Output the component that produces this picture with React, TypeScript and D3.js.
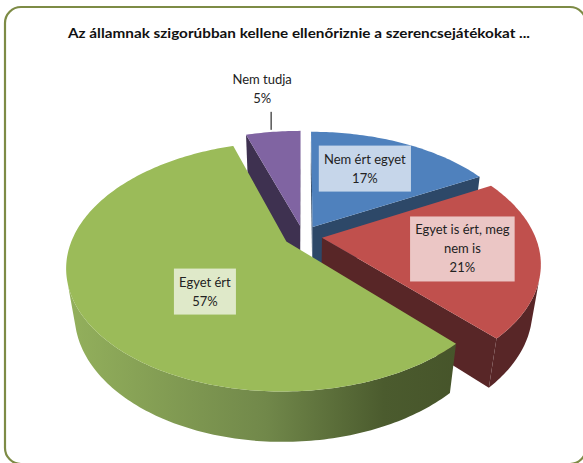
import React, { useEffect, useRef } from "react";
import * as d3 from "d3";

// chart data
const title = "Az államnak szigorúbban kellene ellenőriznie a szerencsejátékokat ...";
const categories = ["Nem ért egyet", "Egyet is ért, meg nem is", "Egyet ért", "Nem tudja"];
const values = [17, 21, 57, 5];
const labelLines = [
  ["Nem ért egyet", "17%"],
  ["Egyet is ért, meg", "nem is", "21%"],
  ["Egyet ért", "57%"],
  ["Nem tudja", "5%"],
];
const topColors = ["#4f81bd", "#c0504d", "#9bbb59", "#8064a2"];
const wallColors = ["#2d4868", "#582627", "#4a5a2e", "#3e3150"];

const W = 583;
const H = 463;

// 3d view
const cx = 303;
const cy = 236;
const S = 213;
const sinT = 0.552;
const cosT = Math.sqrt(1 - sinT * sinT);
const D = 4.17;
const depth = 0.265;
const explode = 0.09;
const font = "Lato, 'Open Sans', sans-serif";

function project(X: number, Y: number, Z: number): [number, number] {
  const yUp = Y * cosT - Z * sinT;
  const zc = Y * sinT + Z * cosT;
  const f = D / (D - zc);
  return [cx + S * X * f, cy - S * yUp * f];
}

function App() {
  const svgRef = useRef<SVGSVGElement>(null);

  useEffect(() => {
    const svg = d3.select(svgRef.current);
    svg.selectAll("*").remove();

    const defs = svg.append("defs");
    const grad = defs
      .append("linearGradient")
      .attr("id", "greenSide")
      .attr("gradientUnits", "userSpaceOnUse")
      .attr("x1", cx - S * 1.1)
      .attr("x2", cx + S * 0.75)
      .attr("y1", 0)
      .attr("y2", 0);
    grad.append("stop").attr("offset", 0).attr("stop-color", "#93b05c");
    grad.append("stop").attr("offset", 0.5).attr("stop-color", "#71884a");
    grad.append("stop").attr("offset", 0.8).attr("stop-color", "#4b5b2e");
    grad.append("stop").attr("offset", 1).attr("stop-color", "#46542a");

    svg
      .append("rect")
      .attr("x", 5)
      .attr("y", 7)
      .attr("width", 581)
      .attr("height", 457)
      .attr("rx", 16)
      .attr("fill", "#fff")
      .attr("stroke", "#7d8b45")
      .attr("stroke-width", 2.2);

    svg
      .append("text")
      .attr("x", 299)
      .attr("y", 38)
      .attr("text-anchor", "middle")
      .attr("font-family", font)
      .attr("font-weight", "bold")
      .attr("font-size", 14)
      .attr("textLength", 462)
      .attr("lengthAdjust", "spacingAndGlyphs")
      .attr("fill", "#111")
      .text(title);

    const arcs = d3.pie<number>().sort(null).value((d) => d)(values);
    const line = d3.line();
    const step = Math.PI / 180;

    const slices = arcs.map((a, i) => {
      const mid = (a.startAngle + a.endAngle) / 2;
      const ox = explode * Math.sin(mid);
      const oz = -explode * Math.cos(mid);
      const pt = (ang: number, r: number, Y: number) =>
        project(ox + r * Math.sin(ang), Y, oz - r * Math.cos(ang));
      return { a, i, mid, ox, oz, pt };
    });

    // back to front
    const order = [3, 0, 1, 2];
    const g = svg.append("g");

    order.forEach((idx) => {
      const { a, i, ox, oz, pt } = slices[idx];
      const a0 = a.startAngle;
      const a1 = a.endAngle;
      const sg = g.append("g").attr("class", "slice").attr("data-name", categories[i]);
      const k = D * cosT - oz;

      // radial walls
      const wall = (ang: number) => [pt(ang, 0, 0), pt(ang, 1, 0), pt(ang, 1, -depth), pt(ang, 0, -depth)];
      if (ox * Math.cos(a0) - Math.sin(a0) * k > 0.001) {
        sg.append("path").attr("d", line(wall(a0)) + "Z").attr("fill", wallColors[i]);
      }
      if (-ox * Math.cos(a1) + Math.sin(a1) * k > 0.001) {
        sg.append("path").attr("d", line(wall(a1)) + "Z").attr("fill", wallColors[i]);
      }

      // outer side
      const angs: number[] = [];
      for (let t = a0; t < a1; t += step) angs.push(t);
      angs.push(a1);
      const vis = (t: number) => -1 - ox * Math.sin(t) - Math.cos(t) * k > 0;
      let run: number[] = [];
      const runs: number[][] = [];
      angs.forEach((t) => {
        if (vis(t)) run.push(t);
        else if (run.length) {
          runs.push(run);
          run = [];
        }
      });
      if (run.length) runs.push(run);
      runs.forEach((r) => {
        if (r.length < 2) return;
        const pts = r.map((t) => pt(t, 1, 0)).concat(r.slice().reverse().map((t) => pt(t, 1, -depth)));
        sg.append("path")
          .attr("d", line(pts) + "Z")
          .attr("fill", i === 2 ? "url(#greenSide)" : wallColors[i]);
      });

      // top face
      const top = [pt(a0, 0, 0)].concat(angs.map((t) => pt(t, 1, 0)));
      sg.append("path").attr("d", line(top) + "Z").attr("fill", topColors[i]);
    });

    // labels
    const lineH = 19;
    const labelR = [0.6, 0.6, 0.5];
    const labelShift: [number, number][] = [[-5, -5], [11, 0], [17, 18]];
    labelR.forEach((r, i) => {
      const s = slices[i];
      const [lx0, ly0] = s.pt(s.mid, r, 0);
      const lx = lx0 + labelShift[i][0];
      const ly = ly0 + labelShift[i][1];
      const lines = labelLines[i];
      const lg = svg.append("g");
      const rect = lg.append("rect");
      const txt = lg
        .append("text")
        .attr("font-family", font)
        .attr("font-size", 13)
        .attr("fill", "#222")
        .attr("text-anchor", "middle");
      const h = lines.length * lineH;
      lines.forEach((l, j) => {
        txt
          .append("tspan")
          .attr("x", lx)
          .attr("y", ly - h / 2 + lineH * j + 14)
          .text(l);
      });
      const tw = (txt.node() as SVGTextElement).getBBox().width;
      rect
        .attr("x", lx - tw / 2 - 5)
        .attr("y", ly - h / 2 - 4)
        .attr("width", tw + 10)
        .attr("height", h + 8)
        .attr("fill", "#fff")
        .attr("fill-opacity", 0.68);
    });

    // outside label for the small slice
    const p = slices[3];
    const [ex, ey] = p.pt(p.mid, 1, 0);
    svg
      .append("line")
      .attr("x1", ex - 2)
      .attr("x2", ex - 2)
      .attr("y1", ey - 2)
      .attr("y2", ey - 20)
      .attr("stroke", "#000")
      .attr("stroke-width", 1);
    const ot = svg
      .append("text")
      .attr("font-family", font)
      .attr("font-size", 13)
      .attr("fill", "#222")
      .attr("text-anchor", "middle");
    labelLines[3].forEach((l, j) => {
      ot.append("tspan")
        .attr("x", ex - 11)
        .attr("y", ey - 48 + j * lineH)
        .text(l);
    });
  }, []);

  return (
    <svg
      ref={svgRef}
      width={W}
      height={H}
      style={{ position: "absolute", left: 0, top: 0, background: "#fff" }}
    />
  );
}

export default App;
